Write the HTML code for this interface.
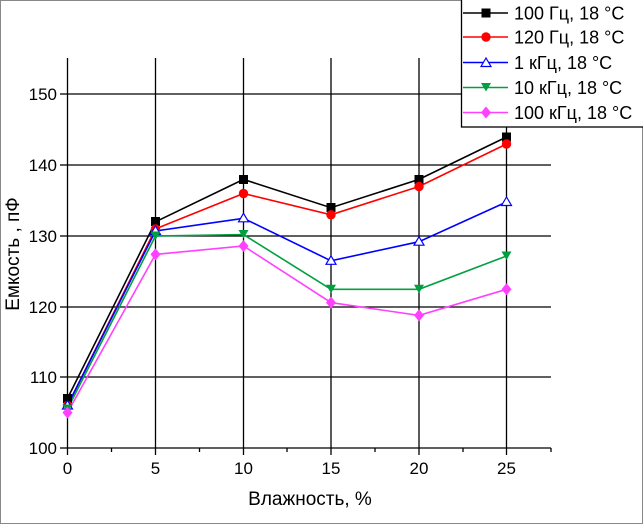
<!DOCTYPE html>
<html><head><meta charset="utf-8"><style>
html,body{margin:0;padding:0;background:#fff}
svg{display:block;font-family:"Liberation Sans",Arial,sans-serif}
</style></head><body>
<svg width="643" height="524" viewBox="0 0 643 524" xmlns="http://www.w3.org/2000/svg">
<rect x="0.5" y="0.5" width="642" height="523" fill="#fff" stroke="#888"/>
<g stroke="#000" stroke-width="1.3">
<line x1="67" y1="94" x2="551" y2="94"/>
<line x1="67" y1="165" x2="551" y2="165"/>
<line x1="67" y1="236" x2="551" y2="236"/>
<line x1="67" y1="307" x2="551" y2="307"/>
<line x1="67" y1="377" x2="551" y2="377"/>
<line x1="67" y1="448" x2="551" y2="448"/>
<line x1="155.5" y1="58" x2="155.5" y2="448"/>
<line x1="243.5" y1="58" x2="243.5" y2="448"/>
<line x1="331" y1="58" x2="331" y2="448"/>
<line x1="419" y1="58" x2="419" y2="448"/>
<line x1="506.5" y1="58" x2="506.5" y2="448"/>
<line x1="67.5" y1="58" x2="67.5" y2="455"/>
<line x1="60" y1="94" x2="67" y2="94"/><line x1="60" y1="165" x2="67" y2="165"/><line x1="60" y1="236" x2="67" y2="236"/><line x1="60" y1="307" x2="67" y2="307"/><line x1="60" y1="377" x2="67" y2="377"/><line x1="60" y1="448" x2="67" y2="448"/>
<line x1="155.5" y1="448" x2="155.5" y2="455"/><line x1="243.5" y1="448" x2="243.5" y2="455"/><line x1="331" y1="448" x2="331" y2="455"/><line x1="419" y1="448" x2="419" y2="455"/><line x1="506.5" y1="448" x2="506.5" y2="455"/>
<line x1="111.5" y1="448" x2="111.5" y2="452"/><line x1="199.5" y1="448" x2="199.5" y2="452"/><line x1="287" y1="448" x2="287" y2="452"/><line x1="375" y1="448" x2="375" y2="452"/><line x1="463" y1="448" x2="463" y2="452"/><line x1="551" y1="448" x2="551" y2="452"/>
</g>
<g font-size="17" fill="#000" text-anchor="end">
<text x="57" y="100">150</text><text x="57" y="171">140</text><text x="57" y="242">130</text><text x="57" y="313">120</text><text x="57" y="383">110</text><text x="57" y="454">100</text>
</g>
<g font-size="17" fill="#000" text-anchor="middle">
<text x="67.5" y="474">0</text><text x="155.5" y="474">5</text><text x="243.5" y="474">10</text><text x="331" y="474">15</text><text x="419" y="474">20</text><text x="506.5" y="474">25</text>
<text x="310" y="505" font-size="19">Влажность, %</text>
<text transform="translate(19,254) rotate(-90)" font-size="19">Емкость , пФ</text>
</g>
<g fill="none" stroke-width="1.6">
<polyline stroke="#000" points="67.5,398.4 155.5,221.8 243.5,179.4 331,207.7 419,179.4 506.5,137"/>
<polyline stroke="#f00" points="67.5,405.5 155.5,228.9 243.5,193.5 331,214.8 419,186.5 506.5,144"/>
<polyline stroke="#00f" points="67.5,405.5 155.5,231 243.5,218.3 331,260.8 419,241.7 506.5,202"/>
<polyline stroke="#00a040" points="67.5,409 155.5,236 243.5,234.6 331,289.3 419,289.3 506.5,256"/>
<polyline stroke="#ff40ff" points="67.5,412.6 155.5,254.4 243.5,246 331,302.6 419,315.4 506.5,289.3"/>
</g>
<g fill="#000"><rect x="63" y="394" width="9" height="9"/><rect x="151" y="217" width="9" height="9"/><rect x="239" y="175" width="9" height="9"/><rect x="326.5" y="203" width="9" height="9"/><rect x="414.5" y="175" width="9" height="9"/><rect x="502" y="132.5" width="9" height="9"/></g>
<g fill="#f00"><circle cx="67.5" cy="405.5" r="4.7"/><circle cx="155.5" cy="228.9" r="4.7"/><circle cx="243.5" cy="193.5" r="4.7"/><circle cx="331" cy="214.8" r="4.7"/><circle cx="419" cy="186.5" r="4.7"/><circle cx="506.5" cy="144" r="4.7"/></g>
<g fill="#fff" stroke="#00f" stroke-width="1.2">
<path d="M67.5,400.5l5,8.5h-10z"/><path d="M155.5,226l5,8.5h-10z"/><path d="M243.5,213.3l5,8.5h-10z"/><path d="M331,255.8l5,8.5h-10z"/><path d="M419,236.7l5,8.5h-10z"/><path d="M506.5,197l5,8.5h-10z"/>
</g>
<g fill="#00a040">
<path d="M62.5,404.5h10l-5,8.5z"/><path d="M150.5,231.5h10l-5,8.5z"/><path d="M238.5,230h10l-5,8.5z"/><path d="M326,284.8h10l-5,8.5z"/><path d="M414,284.8h10l-5,8.5z"/><path d="M501.5,251.5h10l-5,8.5z"/>
</g>
<g fill="#ff40ff">
<path d="M67.5,406.6l5,6l-5,6l-5,-6z"/><path d="M155.5,248.4l5,6l-5,6l-5,-6z"/><path d="M243.5,240l5,6l-5,6l-5,-6z"/><path d="M331,296.6l5,6l-5,6l-5,-6z"/><path d="M419,309.4l5,6l-5,6l-5,-6z"/><path d="M506.5,283.3l5,6l-5,6l-5,-6z"/>
</g>
<rect x="461.5" y="-1" width="183" height="128" fill="#fff" stroke="#000" stroke-width="1.3"/>
<g stroke-width="1.6">
<line x1="463" y1="13" x2="508" y2="13" stroke="#000"/>
<line x1="463" y1="37" x2="508" y2="37" stroke="#f00"/>
<line x1="463" y1="62.5" x2="508" y2="62.5" stroke="#00f"/>
<line x1="463" y1="87.5" x2="508" y2="87.5" stroke="#00a040"/>
<line x1="463" y1="112.5" x2="508" y2="112.5" stroke="#ff40ff"/>
</g>
<rect x="481.5" y="8.5" width="9" height="9" fill="#000"/>
<circle cx="486" cy="37" r="4.7" fill="#f00"/>
<path d="M486,58l5,8.5h-10z" fill="#fff" stroke="#00f" stroke-width="1.2"/>
<path d="M481,83h10l-5,8.5z" fill="#00a040"/>
<path d="M486,106.5l5,6l-5,6l-5,-6z" fill="#ff40ff"/>
<g font-size="18" fill="#000">
<text x="514" y="19.5">100 Гц, 18 °C</text>
<text x="514" y="43.5">120 Гц, 18 °C</text>
<text x="514" y="69">1 кГц, 18 °C</text>
<text x="514" y="94">10 кГц, 18 °C</text>
<text x="514" y="119">100 кГц, 18 °C</text>
</g>
</svg>
</body></html>
